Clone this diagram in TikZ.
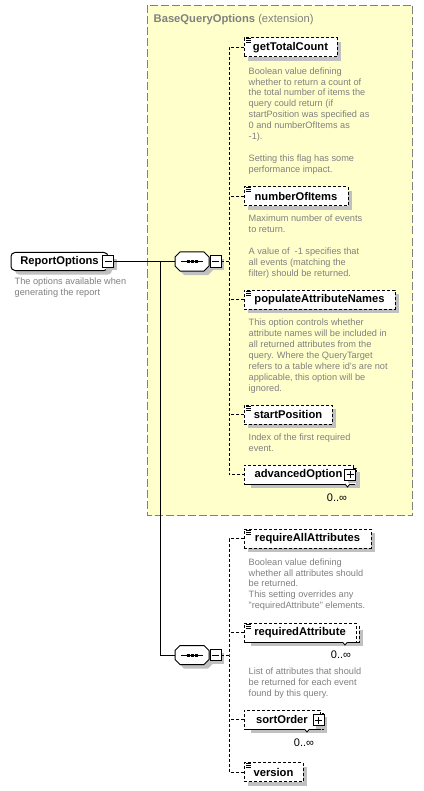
\documentclass[tikz,border=0pt]{standalone}
\usepackage{fontspec}
\setmainfont{Liberation Sans}
\usetikzlibrary{shadows}
\definecolor{yel}{HTML}{FFFFCC}
\definecolor{framec}{HTML}{808080}
\definecolor{shd}{HTML}{C0C0C0}
\definecolor{descc}{HTML}{808080}
\tikzset{
  lw/.style={line width=1pt},
  dl/.style={line width=1pt, dash pattern=on 3pt off 2pt},
  shad/.style={drop shadow={shadow xshift=#1, shadow yshift=-#1, fill=shd, opacity=1}},
  namefont/.style={font=\fontsize{11.2}{13}\selectfont\bfseries},
  elembase/.style={draw, line width=1pt, dash pattern=on 3pt off 2pt, fill=white,
    anchor=north west, minimum height=19pt, inner sep=0pt, outer sep=0pt, namefont},
  elem/.style={elembase, shad=4pt},
  elemback/.style={draw, line width=1pt, dash pattern=on 3pt off 2pt, fill=white,
    anchor=north west, minimum height=16pt, inner sep=0pt, outer sep=0pt, shad=4pt},
  pm/.style={draw, solid, line width=1pt, fill=white, minimum size=11pt, inner sep=0pt,
    outer sep=0pt, shad=3pt},
  minusbox/.style={pm, path picture={\draw[line width=1pt]
    ([xshift=-3.5pt]path picture bounding box.center) -- ([xshift=3.5pt]path picture bounding box.center);}},
  plusbox/.style={pm, path picture={\draw[line width=1pt]
    ([xshift=-3.5pt]path picture bounding box.center) -- ([xshift=3.5pt]path picture bounding box.center)
    ([yshift=-3.5pt]path picture bounding box.center) -- ([yshift=3.5pt]path picture bounding box.center);}},
  seqanchor/.style={minimum width=34pt, minimum height=19pt, inner sep=0pt, outer sep=0pt},
  desc/.style={anchor=north west, inner sep=0pt, align=left, text=descc,
    font=\fontsize{9.2}{10.9}\selectfont},
  mult/.style={anchor=base, inner sep=0pt, font=\fontsize{11}{12}\selectfont},
  vmark/.style={line width=0.8pt, fill=white},
}
\newcommand\drawseq[1]{%
  \begin{scope}[shift={(#1.center)}]
    \fill[shd, shift={(4,4)}] (-12,-9.5) -- (12,-9.5) -- (17,-4.5) -- (17,4.5) -- (12,9.5) -- (-12,9.5) -- (-17,4.5) -- (-17,-4.5) -- cycle;
    \filldraw[fill=white, line width=1pt] (-12,-9.5) -- (12,-9.5) -- (17,-4.5) -- (17,4.5) -- (12,9.5) -- (-12,9.5) -- (-17,4.5) -- (-17,-4.5) -- cycle;
    \draw[line width=1pt] (-11,0) -- (11,0);
    \foreach \dx in {-4,0,4} {\fill (\dx-1.5,-1.5) rectangle (\dx+1.5,1.5);}
  \end{scope}}
\begin{document}
\begin{tikzpicture}[x=1pt,y=-1pt]
\useasboundingbox (0,0) rectangle (423,791);
\fill[white] (0,0) rectangle (423,791);
% extension frame
\draw[fill=yel, draw=framec, line width=1pt, dash pattern=on 8pt off 3pt] (147.5,5.5) rectangle (412.5,515.5);
\node[anchor=base west, inner sep=0pt, text=framec, font=\fontsize{11.2}{13}\selectfont] (bqo) at (153.5,23)
  {\textbf{BaseQueryOptions} (extension)};

% root element
\node[draw, solid, line width=1pt, rounded corners=4pt, fill=white, minimum width=97pt, minimum height=18pt,
  inner sep=0pt, outer sep=0pt, namefont, shad=4pt] (ro) at (59.5,261.5) {ReportOptions\hspace{8pt}};
\node[minusbox] (rom) at (108,261.5) {};
\node[desc] (rod) at (14.5,277.8) {The options available when\\generating the report};

% sequences
\node[seqanchor] (s1) at (192,261.5) {};
\drawseq{s1}
\node[minusbox] (s1m) at (215.5,261.5) {};
\node[seqanchor] (s2) at (192,655) {};
\drawseq{s2}
\node[minusbox] (s2m) at (215.5,655) {};

\coordinate (j) at (160,261.5);
\coordinate (b1) at (229,261.5);
\coordinate (b2) at (229,655);

% elements of the extension
\node[elem, minimum width=93pt] (gtc) at (244,38) {getTotalCount};
\node[desc] (gtcd) at (248.5,67.3) {Boolean value defining\\whether to return a count of\\the total number of items the\\query could return (if\\startPosition was specified as\\0 and numberOfItems as\\-1).\\[10.9pt]Setting this flag has some\\performance impact.};

\node[elem, minimum width=104pt] (noi) at (244,187) {numberOfItems};
\node[desc] (noid) at (248.5,214.8) {Maximum number of events\\to return.\\[10.9pt]A value of \ -1 specifies that\\all events (matching the\\filter) should be returned.};

\node[elem, minimum width=151pt] (pan) at (244,290) {populateAttributeNames};
\node[desc] (pand) at (248.5,318.8) {This option controls whether\\attribute names will be included in\\all returned attributes from the\\query. Where the QueryTarget\\refers to a table where id's are not\\applicable, this option will be\\ignored.};

\node[elem, minimum width=88pt] (stp) at (244,405) {startPosition};
\node[desc] (stpd) at (248.5,433.8) {Index of the first required\\event.};

\node[elemback, minimum width=109pt] (advb) at (247,468) {};
\node[elembase, minimum width=109pt] (adv) at (244,465) {advancedOption\hspace{4.5pt}};
\node[plusbox] (advp) at (350,474.5) {};
\draw[vmark] (345,484) -- (347.5,487) -- (350,484);
\node[mult] (advm) at (337,501.5) {0..∞};

% elements of the second sequence
\node[elem, minimum width=127pt] (raa) at (244,529) {requireAllAttributes};
\node[desc] (raad) at (248.5,558.3) {Boolean value defining\\whether all attributes should\\be returned.\\This setting overrides any\\"requiredAttribute" elements.};

\node[elemback, minimum width=112pt] (rab) at (247,626) {};
\node[elembase, minimum width=112pt] (ra) at (244,623) {requiredAttribute};
\draw[vmark] (342.5,642) -- (345,645) -- (347.5,642);
\node[mult] (ram) at (341,658.5) {0..∞};
\node[desc] (rad) at (248.5,667.8) {List of attributes that should\\be returned for each event\\found by this query.};

\node[elemback, minimum width=76pt] (sob) at (247,713) {};
\node[elembase, minimum width=76pt] (so) at (244,710) {sortOrder\hspace{4.5pt}};
\node[plusbox] (sop) at (318.5,720) {};
\draw[vmark] (304.5,729) -- (307,732) -- (309.5,729);
\node[mult] (som) at (304,746.5) {0..∞};

\node[elem, minimum width=59pt] (ver) at (244,762.5) {version};

% simple-type icons
\foreach \n in {gtc,noi,pan,stp,raa,ra,ver} {
  \draw[line width=1pt] ([shift={(2,1)}]\n.north west) -- ([shift={(7,1)}]\n.north west)
    ([shift={(2,3)}]\n.north west) -- ([shift={(7,3)}]\n.north west)
    ([shift={(2,5)}]\n.north west) -- ([shift={(7,5)}]\n.north west);
}

% connectors
\draw[lw] (rom.east) -- (s1.west);
\draw[lw] (j) |- (s2.west);
\draw[dl] (s1m.east) -- (b1);
\draw[dl] (gtc.west) -| (b1) |- (adv.west);
\draw[dl] (noi.west) -- (noi.west -| b1);
\draw[dl] (pan.west) -- (pan.west -| b1);
\draw[dl] (stp.west) -- (stp.west -| b1);
\draw[dl] (s2m.east) -- (b2);
\draw[dl] (raa.west) -| (b2) |- (ver.west);
\draw[dl] (ra.west) -- (ra.west -| b2);
\draw[dl] (so.west) -- (so.west -| b2);
\end{tikzpicture}
\end{document}
